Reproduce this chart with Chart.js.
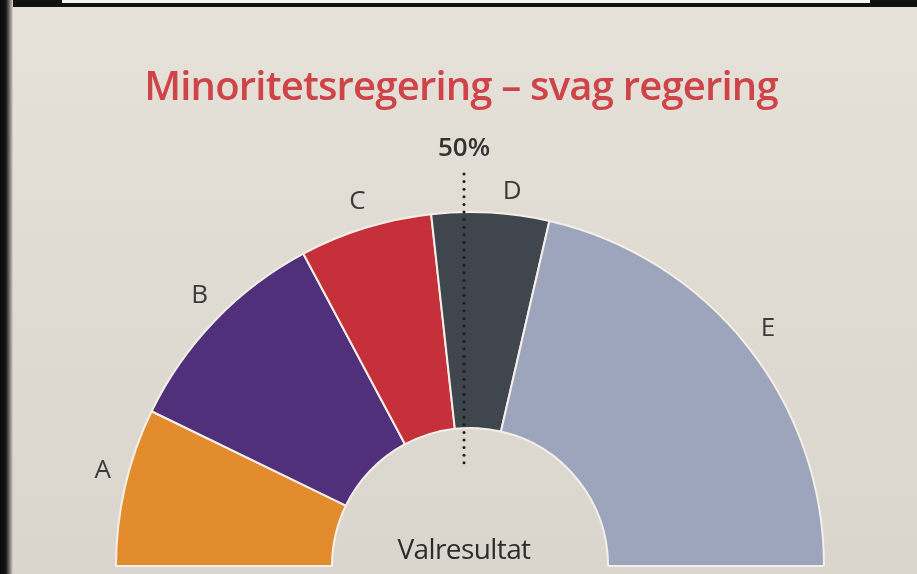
<!DOCTYPE html>
<html>
<head>
<meta charset="utf-8">
<script src="https://cdn.jsdelivr.net/npm/chart.js@4"></script>
<style>
    html, body { margin: 0; padding: 0; }
    body {
        width: 917px; height: 574px; overflow: hidden; position: relative;
        background: linear-gradient(180deg, #e6e2da 0%, #dedad2 60%, #dad6ce 100%);
    }
    #frameTop { position: absolute; left: 0; top: 0; width: 917px; height: 7px; background: #111; }
    #paperTop { position: absolute; left: 62px; top: 0; width: 808px; height: 3px; background: #f3f3f1; }
    #frameLeft {
        position: absolute; left: 0; top: 0; width: 13px; height: 574px;
        background: linear-gradient(90deg, #0b0b0b 0%, #151515 45%, #7d7b77 75%, #d9d5cd 100%);
    }
    canvas { position: absolute; left: 0; top: 0; }
</style>
</head>
<body>
<div id="frameTop"></div>
<div id="paperTop"></div>
<div id="frameLeft"></div>
<canvas id="resultChart" width="917" height="574"></canvas>
<script>
    // election result, share of seats in percent
    const parties = ["A", "B", "C", "D", "E"];
    const seatShares = [14.4, 20, 12.1, 10.7, 42.8];
    const partyColors = ["#e38c2d", "#51307b", "#c6303a", "#40464d", "#9ca5bc"];

    const chartTitle = "Minoritetsregering – svag regering";
    const centerLabel = "Valresultat";
    const majorityLabel = "50%";

    let annotations = {
        id: "annotations",
        afterDatasetsDraw(chart) {
            let ctx = chart.ctx;
            let arcs = chart.getDatasetMeta(0).data;
            let first = arcs[0];
            let cx = first.x, cy = first.y;

            // small hand nudges so letters sit like in the print
            let nudge = { A: [4, -10], B: [4, -6], D: [20, 6] };

            ctx.save();

            // title
            ctx.font = "600 40px 'Open Sans'";
            ctx.letterSpacing = "-0.8px";
            ctx.fillStyle = "#cf4448";
            ctx.textAlign = "center";
            ctx.textBaseline = "alphabetic";
            ctx.fillText(chartTitle, 461, 100);

            // party letters outside the ring
            ctx.font = "26px 'Open Sans'";
            ctx.letterSpacing = "0px";
            ctx.fillStyle = "#3b3b3b";
            ctx.textBaseline = "middle";
            arcs.forEach((arc, i) => {
                let mid = (arc.startAngle + arc.endAngle) / 2;
                let r = arc.outerRadius + 27;
                let d = nudge[parties[i]] || [0, 0];
                ctx.fillText(parties[i], cx + Math.cos(mid) * r + d[0], cy + Math.sin(mid) * r + d[1]);
            });

            // 50% marker
            let lineX = cx - 6;
            ctx.font = "600 26px 'Open Sans'";
            ctx.fillStyle = "#333";
            ctx.fillText(majorityLabel, lineX, cy - first.outerRadius - 63);

            ctx.fillStyle = "#1e1e1e";
            for (let y = cy - first.outerRadius - 38; y <= cy - first.innerRadius + 37; y += 7.6) {
                ctx.beginPath();
                ctx.arc(lineX, y, 1.5, 0, Math.PI * 2);
                ctx.fill();
            }

            // label in the hole
            ctx.font = "500 28px 'Open Sans'";
            ctx.letterSpacing = "-0.6px";
            ctx.fillStyle = "#2c2c2c";
            ctx.textBaseline = "alphabetic";
            ctx.fillText(centerLabel, cx - 6, cy - 7);

            ctx.restore();
        }
    };

    let ctx = document.getElementById("resultChart");
    let resultChart = new Chart(ctx, {
        type: "doughnut",
        data: {
            labels: parties,
            datasets: [{
                data: seatShares,
                backgroundColor: partyColors,
                borderColor: "#f4efe8",
                borderWidth: 2
            }]
        },
        options: {
            responsive: false,
            animation: false,
            rotation: -90,
            circumference: 180,
            cutout: "39%",
            layout: {
                padding: { left: 115, right: 92, top: 211, bottom: 7 }
            },
            plugins: {
                legend: { display: false },
                tooltip: { enabled: false }
            }
        },
        plugins: [annotations]
    });
</script>
</body>
</html>
